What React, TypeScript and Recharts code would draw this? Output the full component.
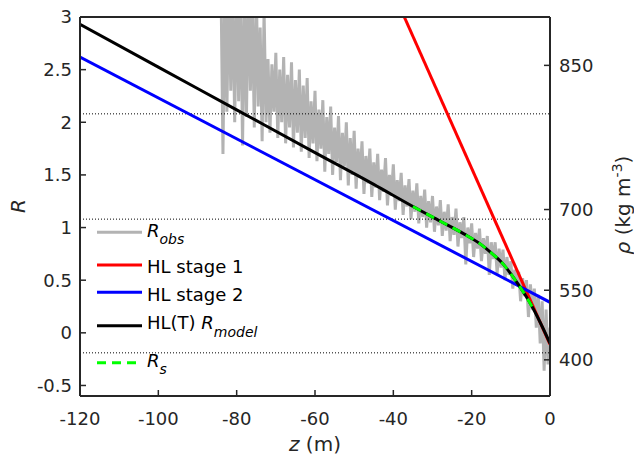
import { LineChart, Line, XAxis, YAxis, ReferenceLine, Legend } from 'recharts'

const zTicks = [-120, -100, -80, -60, -40, -20, 0]
const rTicks = [-0.5, 0, 0.5, 1, 1.5, 2, 2.5, 3]
const rhoTicks = [400, 550, 700, 850]
const rhoIce = 917
const dottedLevels = [2.08, 1.08, -0.19]

const rObs: [number, number][] = [
   [-84, 3.3], [-83.5, 1.7], [-83, 3.3], [-82.5, 2.1], [-82, 3.3], [-81.5, 2.3], [-81, 3.2], [-80.5, 2.0],
   [-80, 3.3], [-79.5, 2.2], [-79, 3.3], [-78.5, 1.78], [-78, 3.2], [-77.5, 2.05], [-77, 3.3], [-76.5, 2.3],
   [-76, 3.1], [-75.5, 1.95], [-75, 3.3], [-74.5, 2.15], [-74, 2.9], [-73.5, 1.82], [-73, 3.05], [-72.5, 2.0],
   [-72, 2.6], [-71.5, 1.9], [-71, 2.55], [-70.5, 2.1], [-70, 2.66], [-69.5, 1.85], [-69, 2.5], [-68.5, 2.0],
   [-68, 2.62], [-67.5, 1.8], [-67, 2.45], [-66.5, 1.95], [-66, 2.57], [-65.5, 1.76], [-65, 2.4], [-64.5, 1.9],
   [-64, 2.5], [-63.5, 1.72], [-63, 2.35], [-62.5, 1.85], [-62, 2.42], [-61.5, 1.66], [-61, 2.2], [-60.5, 1.8],
   [-60, 2.3], [-59.5, 1.63], [-59, 2.12], [-58.5, 1.75], [-58, 2.21], [-57.5, 1.53], [-57, 2.05], [-56.5, 1.7],
   [-56, 2.15], [-55.5, 1.5], [-55, 1.95], [-54.5, 1.62], [-54, 2.06], [-53.5, 1.45], [-53, 1.9], [-52.5, 1.58],
   [-52, 2.0], [-51.5, 1.4], [-51, 1.85], [-50.5, 1.5], [-50, 1.92], [-49.5, 1.37], [-49, 1.75], [-48.5, 1.48],
   [-48, 1.82], [-47.5, 1.32], [-47, 1.68], [-46.5, 1.42], [-46, 1.75], [-45.5, 1.29], [-45, 1.62], [-44.5, 1.38],
   [-44, 1.7], [-43.5, 1.26], [-43, 1.55], [-42.5, 1.34], [-42, 1.66], [-41.5, 1.21], [-41, 1.5], [-40.5, 1.3],
   [-40, 1.6], [-39.5, 1.17], [-39, 1.45], [-38.5, 1.25], [-38, 1.52], [-37.5, 1.12], [-37, 1.4], [-36.5, 1.2],
   [-36, 1.46], [-35.5, 1.08], [-35, 1.35], [-34.5, 1.15], [-34, 1.42], [-33.5, 1.04], [-33, 1.3], [-32.5, 1.1],
   [-32, 1.36], [-31.5, 1.0], [-31, 1.25], [-30.5, 1.05], [-30, 1.3], [-29.5, 0.96], [-29, 1.2], [-28.5, 1.02],
   [-28, 1.26], [-27.5, 0.92], [-27, 1.15], [-26.5, 0.97], [-26, 1.22], [-25.5, 0.87], [-25, 1.1], [-24.5, 0.93],
   [-24, 1.18], [-23.5, 0.82], [-23, 1.05], [-22.5, 0.9], [-22, 1.1], [-21.5, 0.65], [-21, 1.0], [-20.5, 0.85],
   [-20, 1.04], [-19.5, 0.72], [-19, 0.95], [-18.5, 0.8], [-18, 0.99], [-17.5, 0.68], [-17, 0.9], [-16.5, 0.75],
   [-16, 0.92], [-15.5, 0.55], [-15, 0.86], [-14.5, 0.7], [-14, 0.86], [-13.5, 0.56], [-13, 0.8], [-12.5, 0.62],
   [-12, 0.79], [-11.5, 0.5], [-11, 0.72], [-10.5, 0.55], [-10, 0.68], [-9.5, 0.42], [-9, 0.6], [-8.5, 0.45],
   [-8, 0.58], [-7.5, 0.3], [-7, 0.52], [-6.5, 0.35], [-6, 0.5], [-5.5, 0.15], [-5, 0.46], [-4.5, 0.22],
   [-4, 0.42], [-3.5, 0.05], [-3, 0.36], [-2.5, -0.1], [-2, 0.3], [-1.5, -0.36], [-1, 0.22], [-0.5, -0.3],
   [0, 0.05],
]

const stage1: [number, number][] = [[-37.2, 3.0], [0, -0.11]]
const stage2: [number, number][] = [[-120, 2.62], [0, 0.29]]

const rModel: [number, number][] = [
   [-120, 2.93], [-100, 2.524], [-80, 2.118], [-60, 1.712], [-45, 1.41], [-35, 1.2], [-28, 1.06],
   [-22, 0.94], [-18, 0.85], [-15, 0.76], [-12, 0.655], [-10, 0.56], [-8, 0.455], [-6, 0.34],
   [-4, 0.21], [-2, 0.06], [0, -0.1],
]

const rS: [number, number][] = [
   [-35, 1.2], [-28, 1.06], [-22, 0.94], [-18, 0.85], [-15, 0.76], [-12, 0.655], [-10, 0.56],
   [-8, 0.455], [-6, 0.34], [-4, 0.21],
]

const toRows = (pts: [number, number][]) => pts.map(([z, r]) => ({ z, r }))
const rhoToR = (rho: number) => Math.log(rho / (rhoIce - rho))
const rToRho = (r: number) => Math.round(rhoIce * Math.exp(r) / (1 + Math.exp(r)))

const font = "'DejaVu Sans', sans-serif"
const axisColor = '#262626'
const tickStyle = { fontSize: 18, fill: axisColor, fontFamily: font }
const axisLineStyle = { stroke: axisColor, strokeWidth: 2 }
const tickLineStyle = { stroke: axisColor, strokeWidth: 1.5 }

const legendItems = [
   { color: '#b3b3b3', dash: undefined, lineY: 232.3, baseY: 236.7, main: 'R', sub: 'obs', prefix: '' },
   { color: '#ff0000', dash: undefined, lineY: 265, baseY: 272.7, main: 'HL stage 1', sub: '', prefix: '' },
   { color: '#0000ff', dash: undefined, lineY: 292.3, baseY: 300.7, main: 'HL stage 2', sub: '', prefix: '' },
   { color: '#000000', dash: undefined, lineY: 325.7, baseY: 329.3, main: 'R', sub: 'model', prefix: 'HL(T) ' },
   { color: '#00ff00', dash: '9 6', lineY: 362.7, baseY: 366.7, main: 'R', sub: 's', prefix: '' },
]

const LegendBox = () => (
   <svg width={ 634 } height={ 459 } style={ { position: 'absolute', left: 0, top: 0 } }>
      {
         legendItems.map(item => (
            <g key={ item.main + item.sub }>
               <line x1={ 97 } x2={ 142 } y1={ item.lineY } y2={ item.lineY } stroke={ item.color } strokeWidth={ 3 } strokeDasharray={ item.dash } />
               <text x={ 147 } y={ item.baseY } fontSize={ 18 } fontFamily={ font } fill="#000">
                  { item.prefix && <tspan>{ item.prefix }</tspan> }
                  <tspan fontStyle={ item.sub ? 'italic' : 'normal' }>{ item.main }</tspan>
                  { item.sub && <tspan fontStyle="italic" fontSize={ 14 } dy={ 7.5 }>{ item.sub }</tspan> }
               </text>
            </g>
         ))
      }
   </svg>
)

const RTitle = () => (
   <text transform="translate(25,206) rotate(-90)" textAnchor="middle" fontSize={ 20 } fontStyle="italic" fontFamily={ font } fill={ axisColor }>R</text>
)

const RhoTitle = () => (
   <text transform="translate(630,205) rotate(-90)" textAnchor="middle" fontSize={ 20 } fontFamily={ font } fill={ axisColor }>
      <tspan fontStyle="italic">ρ</tspan>
      <tspan>{ ' (kg m' }</tspan>
      <tspan fontSize={ 14 } dy={ -8 }>-3</tspan>
      <tspan dy={ 8 }>)</tspan>
   </text>
)

const ZTitle = () => (
   <text x={ 315 } y={ 451 } textAnchor="middle" fontSize={ 20 } fontFamily={ font } fill={ axisColor }>
      <tspan fontStyle="italic">z</tspan>
      <tspan>{ ' (m)' }</tspan>
   </text>
)

export default function App() {
   return (
      <div style={ { position: 'absolute', left: 0, top: 0, width: 634, height: 459, background: '#fff' } }>
         <LineChart width={ 634 } height={ 459 } margin={ { top: 0, right: 0, bottom: 0, left: 0 } }>
            <XAxis
               dataKey="z"
               type="number"
               domain={ [-120, 0] }
               ticks={ zTicks }
               interval={ 0 }
               allowDataOverflow
               height={ 63 }
               tickSize={ -6 }
               tickMargin={ 22 }
               tick={ tickStyle }
               axisLine={ axisLineStyle }
               tickLine={ tickLineStyle }
               label={ ZTitle }
            />
            <XAxis
               xAxisId="top"
               orientation="top"
               type="number"
               domain={ [-120, 0] }
               ticks={ zTicks }
               interval={ 0 }
               allowDataOverflow
               height={ 17 }
               tickSize={ -6 }
               tick={ false }
               axisLine={ axisLineStyle }
               tickLine={ tickLineStyle }
            />
            <YAxis
               type="number"
               domain={ [-0.6, 3] }
               ticks={ rTicks }
               interval={ 0 }
               allowDataOverflow
               width={ 80 }
               tickSize={ -6 }
               tickMargin={ 14 }
               tick={ tickStyle }
               axisLine={ axisLineStyle }
               tickLine={ tickLineStyle }
               label={ RTitle }
            />
            <YAxis
               yAxisId="rho"
               orientation="right"
               type="number"
               domain={ [-0.6, 3] }
               ticks={ rhoTicks.map(rhoToR) }
               tickFormatter={ (v: number) => String(rToRho(v)) }
               interval={ 0 }
               allowDataOverflow
               width={ 84 }
               tickSize={ -6 }
               tickMargin={ 15 }
               tick={ tickStyle }
               axisLine={ axisLineStyle }
               tickLine={ tickLineStyle }
               label={ RhoTitle }
            />
            <Line data={ toRows(rObs) } dataKey="r" type="linear" stroke="#b3b3b3" strokeWidth={ 3 } dot={ false } activeDot={ false } isAnimationActive={ false } />
            {
               dottedLevels.map(level => (
                  <ReferenceLine key={ level } y={ level } stroke="#000" strokeWidth={ 1 } strokeDasharray="1 2" />
               ))
            }
            <Line data={ toRows(stage1) } dataKey="r" type="linear" stroke="#ff0000" strokeWidth={ 3 } dot={ false } activeDot={ false } isAnimationActive={ false } />
            <Line data={ toRows(stage2) } dataKey="r" type="linear" stroke="#0000ff" strokeWidth={ 3 } dot={ false } activeDot={ false } isAnimationActive={ false } />
            <Line data={ toRows(rModel) } dataKey="r" type="monotone" stroke="#000000" strokeWidth={ 3 } dot={ false } activeDot={ false } isAnimationActive={ false } />
            <Line data={ toRows(rS) } dataKey="r" type="monotone" stroke="#00ff00" strokeWidth={ 3 } strokeDasharray="9 6" dot={ false } activeDot={ false } isAnimationActive={ false } />
            <Legend layout="vertical" align="center" verticalAlign="middle" wrapperStyle={ { left: 0, top: 0, width: 634, height: 459 } } content={ LegendBox } />
         </LineChart>
      </div>
   )
}
